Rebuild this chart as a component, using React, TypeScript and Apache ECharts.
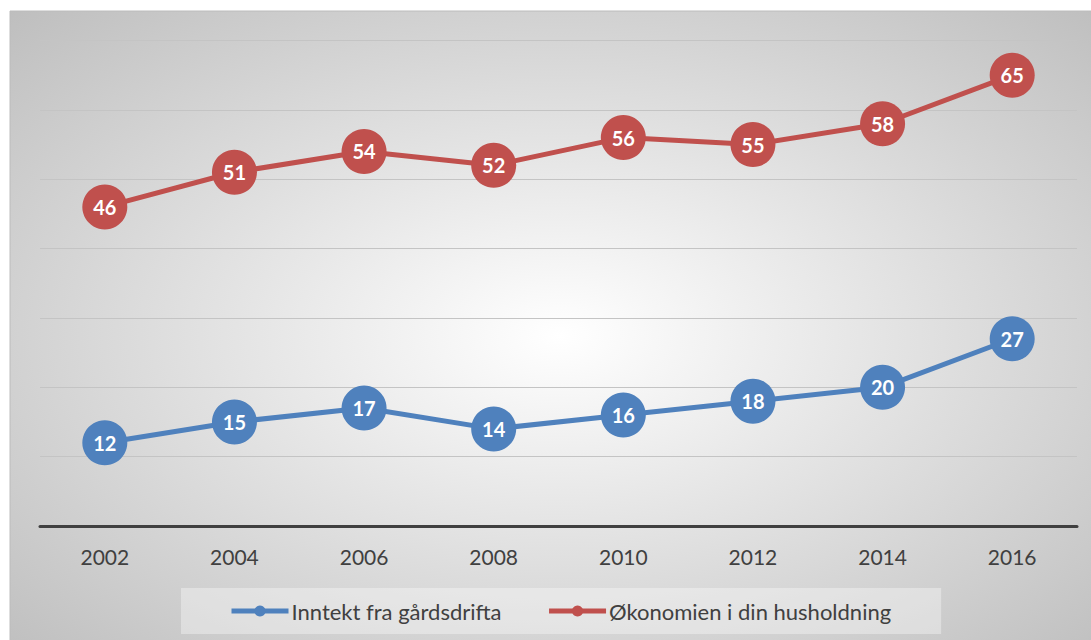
import React, { useEffect, useRef } from "react";
import * as echarts from "echarts";

const years = ["2002", "2004", "2006", "2008", "2010", "2012", "2014", "2016"];
const inntekt = [12, 15, 17, 14, 16, 18, 20, 27];
const okonomi = [46, 51, 54, 52, 56, 55, 58, 65];
const seriesNames = ["Inntekt fra gårdsdrifta", "Økonomien i din husholdning"];

const FONT = "Lato, 'Open Sans', sans-serif";

export default function App() {
  const ref = useRef<HTMLDivElement>(null);
  useEffect(() => {
    if (!ref.current) return;
    const chart = echarts.init(ref.current, undefined, { renderer: "svg" });
    const mkSeries = (name: string, data: number[], color: string) => ({
      name,
      type: "line",
      data,
      symbol: "circle",
      symbolSize: 45,
      itemStyle: { color },
      lineStyle: { color, width: 5 },
      label: {
        show: true,
        position: "inside",
        color: "#ffffff",
        fontWeight: "bold",
        fontSize: 20,
        fontFamily: FONT,
      },
      z: 3,
    });
    chart.setOption({
      animation: false,
      graphic: [
        {
          type: "rect",
          z: -10,
          silent: true,
          shape: { x: 10, y: 11, width: 1100, height: 650 },
          style: {
            fill: {
              type: "radial",
              x: 0.5,
              y: 0.5,
              r: 0.72,
              colorStops: [
                { offset: 0, color: "#ffffff" },
                { offset: 1, color: "#bdbdbd" },
              ],
            },
            stroke: "#bcbcbc",
            lineWidth: 1,
          },
        },
      ],
      grid: { left: 40, right: 14, top: 40.5, bottom: 114, containLabel: false },
      xAxis: {
        type: "category",
        data: years,
        boundaryGap: true,
        axisLine: { show: true, lineStyle: { color: "#404040", width: 3 } },
        axisTick: { show: false },
        axisLabel: { color: "#404040", fontSize: 21, fontFamily: FONT, margin: 20 },
      },
      yAxis: {
        type: "value",
        min: 0,
        max: 70,
        interval: 10,
        axisLine: { show: false },
        axisTick: { show: false },
        axisLabel: { show: false },
        splitLine: { lineStyle: { color: "#c4c4c4", width: 1 } },
      },
      legend: {
        data: seriesNames,
        left: 181,
        top: 588,
        padding: [12, 50, 12, 48],
        itemGap: 45,
        itemWidth: 57,
        itemHeight: 14,
        lineStyle: { width: 5 },
        backgroundColor: "rgba(255,255,255,0.35)",
        textStyle: { color: "#404040", fontSize: 22, fontFamily: FONT, padding: [0, 0, 0, -2] },
      },
      series: [
        mkSeries(seriesNames[0], inntekt, "#4f81bd"),
        mkSeries(seriesNames[1], okonomi, "#c0504d"),
      ],
    });
    return () => chart.dispose();
  }, []);
  return (
    <div
      ref={ref}
      style={{ position: "fixed", left: 0, top: 0, width: 1091, height: 640, background: "#ffffff" }}
    />
  );
}
